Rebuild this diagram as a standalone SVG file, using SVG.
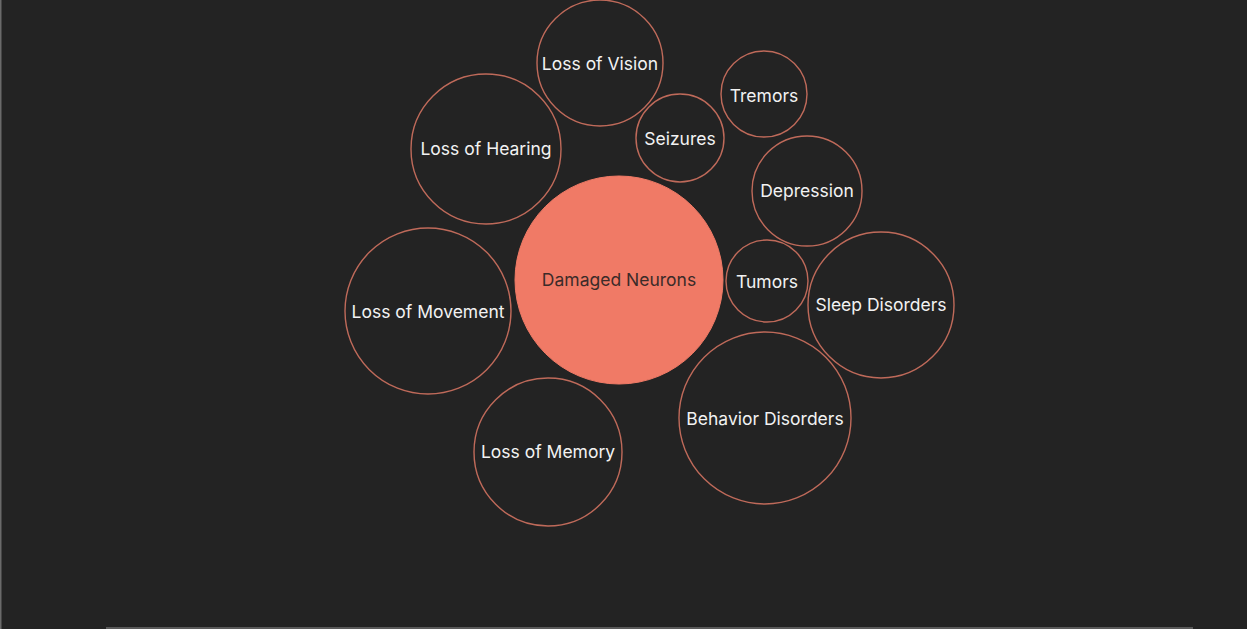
<svg xmlns="http://www.w3.org/2000/svg" width="1247" height="629" viewBox="0 0 1247 629">
  <style>
    .ring { fill: none; stroke: #bf6a5a; stroke-width: 1.4; }
    .core { fill: #f07a66; stroke: #f07a66; stroke-width: 1; }
    .lbl { font-family: Inter, "Liberation Sans", sans-serif; font-size: 17.5px; fill: #f2f2f2; text-anchor: middle; dominant-baseline: central; }
    .lbl-core { fill: #3b2b29; }
  </style>
  <rect width="1247" height="629" fill="#232323"/>
  <rect x="0" y="0" width="1.5" height="629" fill="#6a6a6a"/>
  <rect x="106" y="627" width="1087" height="2" fill="#5a5a5a"/>

  <g id="connectors"></g>

  <g id="node-vision"><circle class="ring" cx="600" cy="63" r="63"/><text class="lbl" x="600" y="63">Loss of Vision</text></g>
  <g id="node-seizures"><circle class="ring" cx="680" cy="138" r="44"/><text class="lbl" x="680" y="138">Seizures</text></g>
  <g id="node-tremors"><circle class="ring" cx="764" cy="94" r="43"/><text class="lbl" x="764" y="95">Tremors</text></g>
  <g id="node-hearing"><circle class="ring" cx="486" cy="149" r="75"/><text class="lbl" x="486" y="148">Loss of Hearing</text></g>
  <g id="node-depression"><circle class="ring" cx="807" cy="191" r="55"/><text class="lbl" x="807" y="190">Depression</text></g>
  <g id="node-damaged"><circle class="core" cx="619" cy="280" r="104"/><text class="lbl lbl-core" x="619" y="279">Damaged Neurons</text></g>
  <g id="node-tumors"><circle class="ring" cx="767" cy="281" r="41"/><text class="lbl" x="767" y="281">Tumors</text></g>
  <g id="node-sleep"><circle class="ring" cx="881" cy="305" r="73"/><text class="lbl" x="881" y="304">Sleep Disorders</text></g>
  <g id="node-movement"><circle class="ring" cx="428" cy="311" r="83"/><text class="lbl" x="428" y="311">Loss of Movement</text></g>
  <g id="node-behavior"><circle class="ring" cx="765" cy="418" r="86"/><text class="lbl" x="765" y="418">Behavior Disorders</text></g>
  <g id="node-memory"><circle class="ring" cx="548" cy="452" r="74"/><text class="lbl" x="548" y="451">Loss of Memory</text></g>
</svg>
